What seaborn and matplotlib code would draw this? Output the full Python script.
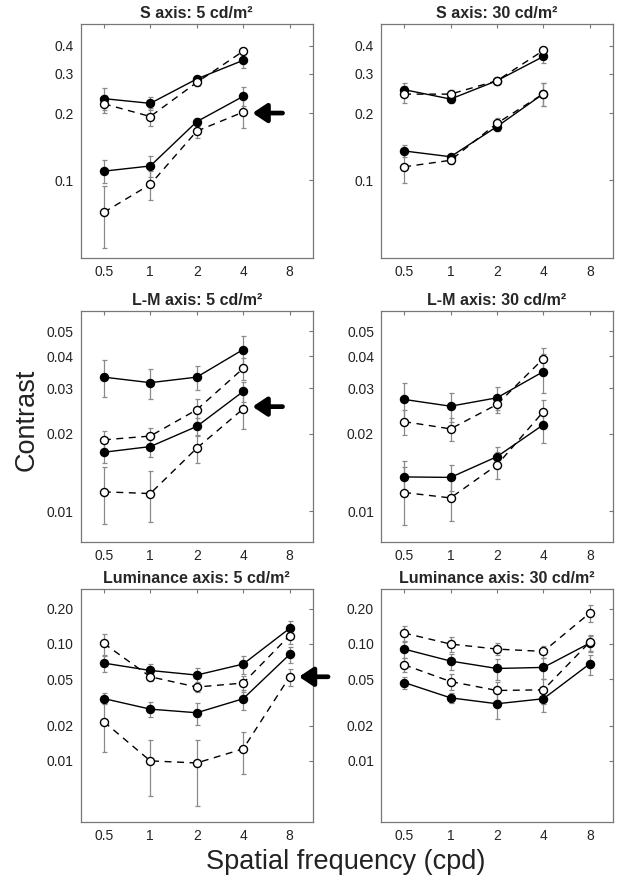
import numpy as np
import pandas as pd
import matplotlib
matplotlib.use('Agg')
import matplotlib.pyplot as plt
import seaborn as sns

# spatial frequencies (cpd)
freq4 = [0.5, 1, 2, 4]
freq5 = [0.5, 1, 2, 4, 8]

# each panel: filled (upper), open (upper), filled (lower), open (lower)
s5_vals = [[0.232, 0.221, 0.284, 0.344],
           [0.220, 0.193, 0.274, 0.378],
           [0.110, 0.116, 0.183, 0.2375],
           [0.072, 0.096, 0.166, 0.202]]
s5_err = [[0.026, 0.014, 0.009, 0.025],
          [0.020, 0.018, 0.011, 0.012],
          [0.013, 0.012, 0.0075, 0.023],
          [0.022, 0.014, 0.0115, 0.031]]

s30_vals = [[0.2545, 0.231, 0.279, 0.358],
            [0.243, 0.243, 0.279, 0.381],
            [0.1354, 0.1276, 0.174, 0.244],
            [0.115, 0.123, 0.180, 0.244]]
s30_err = [[0.018, 0.010, 0.009, 0.022],
           [0.021, 0.010, 0.009, 0.012],
           [0.008, 0.004, 0.007, 0.028],
           [0.0175, 0.005, 0.011, 0.028]]

lm5_vals = [[0.0332, 0.0316, 0.0332, 0.0425],
            [0.01895, 0.0196, 0.0248, 0.0359],
            [0.01696, 0.01784, 0.02136, 0.0292],
            [0.0119, 0.01172, 0.01758, 0.025]]
lm5_err = [[0.0055, 0.0042, 0.0035, 0.0056],
           [0.0015, 0.0015, 0.0025, 0.0036],
           [0.0015, 0.0016, 0.0017, 0.0026],
           [0.0030, 0.0026, 0.0022, 0.0041]]

lm30_vals = [[0.0272, 0.0256, 0.0276, 0.0349],
             [0.0223, 0.0209, 0.0260, 0.0392],
             [0.0136, 0.01354, 0.0163, 0.0217],
             [0.01183, 0.01127, 0.01513, 0.0244]]
lm30_err = [[0.0043, 0.0033, 0.0029, 0.0061],
            [0.0025, 0.0021, 0.0019, 0.0039],
            [0.0021, 0.0016, 0.0015, 0.0033],
            [0.0030, 0.0021, 0.0018, 0.0026]]

lum5_vals = [[0.0686, 0.0593, 0.0542, 0.0673, 0.1358],
             [0.101, 0.0524, 0.0428, 0.0463, 0.118],
             [0.0341, 0.0277, 0.0258, 0.034, 0.0813],
             [0.0216, 0.0100, 0.0096, 0.01267, 0.0524]]
lum5_err = [[0.011, 0.008, 0.0086, 0.012, 0.0215],
            [0.021, 0.004, 0.0042, 0.0073, 0.0186],
            [0.0036, 0.004, 0.0054, 0.0067, 0.0128],
            [0.0096, 0.0050, 0.0055, 0.0050, 0.0085]]

lum30_vals = [[0.0904, 0.0714, 0.0617, 0.063, 0.1018],
              [0.124, 0.0998, 0.0904, 0.0863, 0.184],
              [0.0468, 0.0346, 0.0308, 0.034, 0.0677],
              [0.0664, 0.0477, 0.040, 0.0405, 0.104]]
lum30_err = [[0.0143, 0.0113, 0.0122, 0.0124, 0.0161],
             [0.0187, 0.015, 0.0107, 0.0102, 0.030],
             [0.0055, 0.0034, 0.008, 0.008, 0.0133],
             [0.0092, 0.0075, 0.0071, 0.0096, 0.0161]]

titles = ['S axis: 5 cd/m\u00b2', 'S axis: 30 cd/m\u00b2',
          'L-M axis: 5 cd/m\u00b2', 'L-M axis: 30 cd/m\u00b2',
          'Luminance axis: 5 cd/m\u00b2', 'Luminance axis: 30 cd/m\u00b2']
xtick_vals = [0.5, 1, 2, 4, 8]
xtick_labels = ['0.5', '1', '2', '4', '8']
s_yticks = [0.1, 0.2, 0.3, 0.4]
s_ylabels = ['0.1', '0.2', '0.3', '0.4']
lm_yticks = [0.01, 0.02, 0.03, 0.04, 0.05]
lm_ylabels = ['0.01', '0.02', '0.03', '0.04', '0.05']
lum_yticks = [0.01, 0.02, 0.05, 0.10, 0.20]
lum_ylabels = ['0.01', '0.02', '0.05', '0.10', '0.20']

sns.set_style('white')
plt.rcParams['font.family'] = ['Liberation Sans', 'DejaVu Sans']

fig = plt.figure(figsize=(6.21, 8.86), dpi=100)
lefts = [0.130, 0.6135]
rows = [(0.7088, 0.2641), (0.3883, 0.2607), (0.0722, 0.263)]
axes = []
for r in range(3):
    for c in range(2):
        axes.append(fig.add_axes([lefts[c], rows[r][0], 0.3736, rows[r][1]]))

panels = [
    (freq4, s5_vals, s5_err, s_yticks, s_ylabels, (0.045, 0.50)),
    (freq4, s30_vals, s30_err, s_yticks, s_ylabels, (0.045, 0.50)),
    (freq4, lm5_vals, lm5_err, lm_yticks, lm_ylabels, (0.0076, 0.060)),
    (freq4, lm30_vals, lm30_err, lm_yticks, lm_ylabels, (0.0076, 0.060)),
    (freq5, lum5_vals, lum5_err, lum_yticks, lum_ylabels, (0.003, 0.295)),
    (freq5, lum30_vals, lum30_err, lum_yticks, lum_ylabels, (0.003, 0.295)),
]

for ax, title, (fq, vals, errs, yt, yl, ylim) in zip(axes, titles, panels):
    for i, (v, e) in enumerate(zip(vals, errs)):
        filled = (i % 2 == 0)
        ax.errorbar(fq, v, yerr=e, fmt='none', ecolor='#8a8a8a', elinewidth=0.9,
                    capsize=1.8, capthick=0.9, zorder=1)
        df = pd.DataFrame({'freq': fq, 'contrast': v})
        sns.lineplot(data=df, x='freq', y='contrast', ax=ax, color='black',
                     linewidth=1.0, marker='o', markersize=5.8,
                     markerfacecolor='black' if filled else 'white',
                     markeredgecolor='black', markeredgewidth=1.0,
                     linestyle='-' if filled else (0, (5, 4)), zorder=3)
    ax.set_xscale('log', base=2)
    ax.set_yscale('log')
    ax.set_xlim(0.354, 11.3)
    ax.set_ylim(*ylim)
    ax.set_xticks(xtick_vals)
    ax.set_xticklabels(xtick_labels)
    ax.set_yticks(yt)
    ax.set_yticklabels(yl)
    ax.minorticks_off()
    ax.set_xlabel('')
    ax.set_ylabel('')
    ax.tick_params(direction='in', top=True, right=True, length=3, width=0.8,
                   color='#777777', labelsize=10, labelcolor='#222222', pad=5)
    for sp in ax.spines.values():
        sp.set_color('#777777')
        sp.set_linewidth(0.9)
    ax.set_title(title, fontsize=11.5, fontweight='bold', pad=4)

# arrows marking the reference condition
arrow_kw = dict(arrowstyle='-|>,head_length=0.6,head_width=0.4', lw=3.4,
                color='black', mutation_scale=14, shrinkA=0, shrinkB=0)
axes[0].annotate('', xy=(4.6, 0.2), xytext=(7.2, 0.2), arrowprops=arrow_kw,
                 annotation_clip=False)
axes[2].annotate('', xy=(4.6, 0.0255), xytext=(7.2, 0.0255), arrowprops=arrow_kw,
                 annotation_clip=False)
axes[4].annotate('', xy=(9.2, 0.0524), xytext=(14.2, 0.0524), arrowprops=arrow_kw,
                 annotation_clip=False)

fig.text(0.557, 0.027, 'Spatial frequency (cpd)', ha='center', va='center',
         fontsize=19.5, color='#222222')
fig.text(0.0435, 0.526, 'Contrast', ha='center', va='center', rotation=90,
         fontsize=19.5, color='#222222')

fig.savefig('out.png', dpi=100)
